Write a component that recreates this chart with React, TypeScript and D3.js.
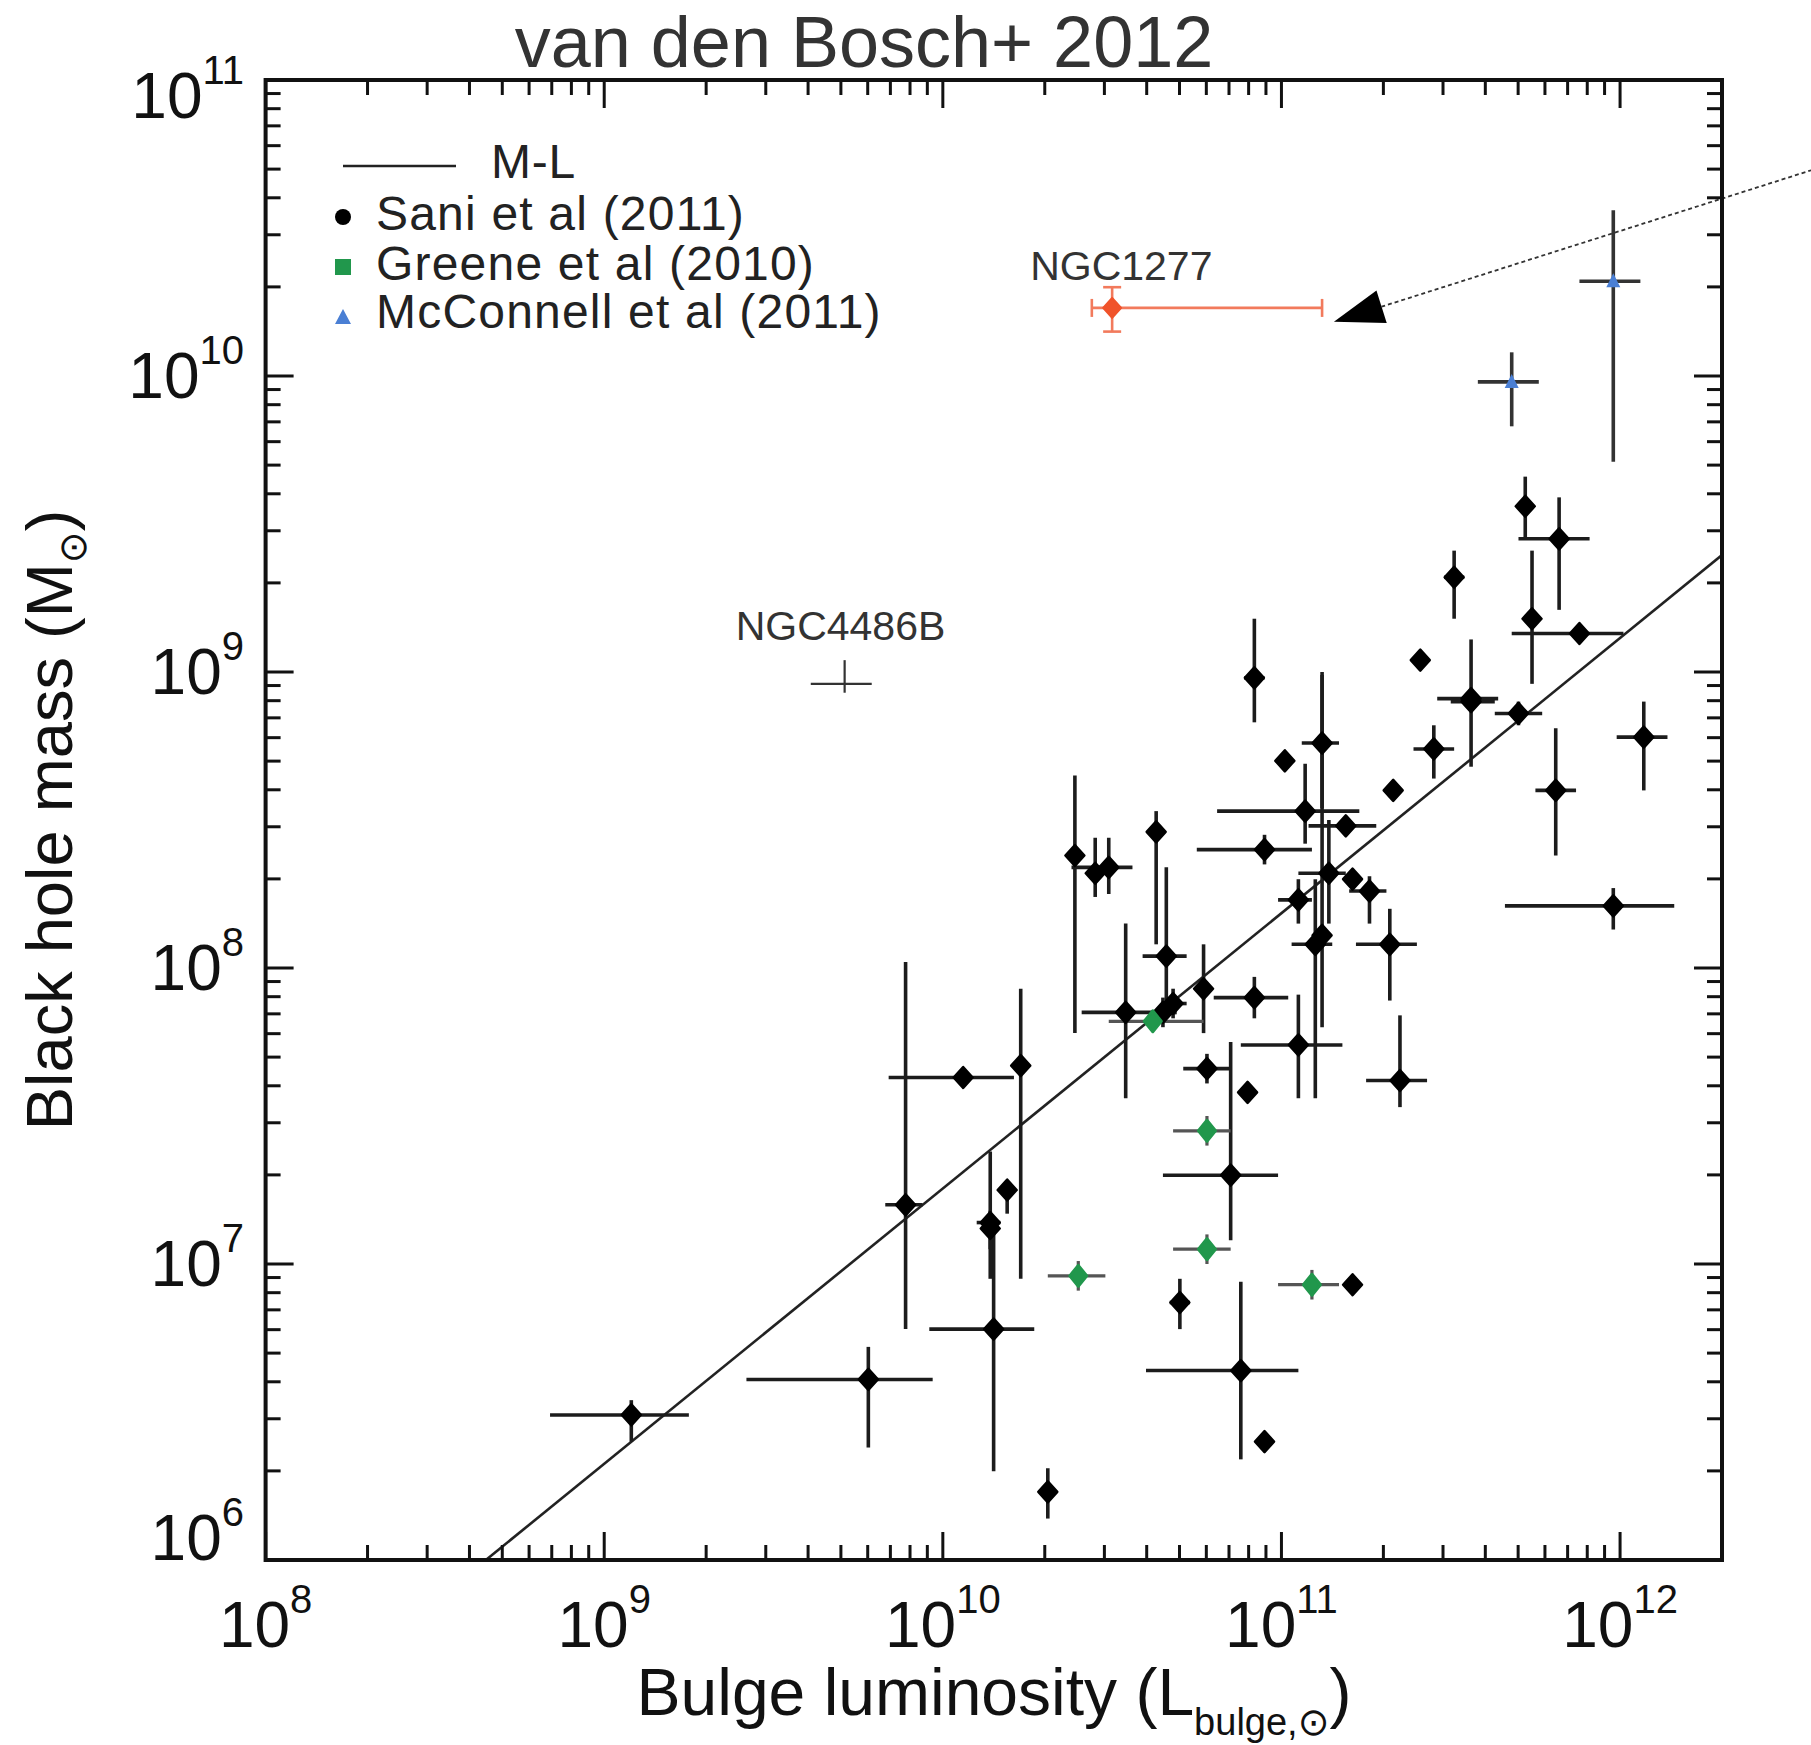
import React from "react";
import * as d3 from "d3";

// ---------- DATA (log10 values) ----------
// each row: [logL, logM, logL_lo, logL_hi, logM_lo, logM_hi]
const saniPoints: number[][] = [
  [9.08, 6.49, 8.84, 9.25, 6.40, 6.54],
  [9.78, 6.61, 9.42, 9.97, 6.38, 6.72],
  [9.89, 7.20, 9.83, 9.94, 6.78, 8.02],
  [10.06, 7.63, 9.84, 10.21, 7.60, 7.66],
  [10.23, 7.67, 10.21, 10.25, 6.95, 7.93],
  [10.15, 6.78, 9.96, 10.27, 6.30, 7.14],
  [10.14, 7.14, 10.10, 10.17, 6.95, 7.38],
  [10.14, 7.12, 10.12, 10.16, 7.05, 7.18],
  [10.19, 7.25, 10.19, 10.19, 7.17, 7.27],
  [11.35, 7.62, 11.25, 11.43, 7.53, 7.84],
  [10.78, 7.66, 10.71, 10.85, 7.61, 7.71],
  [10.90, 7.58, 10.90, 10.90, 7.58, 7.58],
  [10.85, 7.30, 10.65, 10.99, 7.08, 7.75],
  [10.70, 6.87, 10.67, 10.73, 6.78, 6.95],
  [11.21, 6.93, 11.21, 11.21, 6.93, 6.93],
  [10.88, 6.64, 10.60, 11.05, 6.34, 6.94],
  [10.95, 6.40, 10.95, 10.95, 6.40, 6.40],
  [10.31, 6.23, 10.31, 10.31, 6.14, 6.31],
  [11.05, 7.74, 10.88, 11.18, 7.56, 7.91],
  [10.92, 8.98, 10.89, 10.95, 8.83, 9.18],
  [11.51, 9.32, 11.48, 11.54, 9.18, 9.41],
  [11.41, 9.04, 11.41, 11.41, 9.04, 9.04],
  [11.56, 8.91, 11.46, 11.64, 8.68, 9.11],
  [11.56, 8.90, 11.50, 11.63, 8.88, 8.92],
  [11.45, 8.74, 11.39, 11.51, 8.64, 8.82],
  [11.33, 8.60, 11.33, 11.33, 8.60, 8.60],
  [11.70, 8.86, 11.63, 11.77, 8.82, 8.90],
  [11.12, 8.76, 11.06, 11.17, 8.54, 8.99],
  [11.01, 8.70, 11.01, 11.01, 8.70, 8.70],
  [11.07, 8.53, 10.81, 11.23, 8.42, 8.69],
  [11.19, 8.48, 11.08, 11.28, 8.46, 8.50],
  [10.95, 8.40, 10.75, 11.09, 8.35, 8.45],
  [11.14, 8.32, 11.05, 11.19, 8.15, 8.50],
  [11.21, 8.30, 11.21, 11.21, 8.30, 8.30],
  [11.26, 8.26, 11.20, 11.31, 8.15, 8.31],
  [11.05, 8.23, 10.99, 11.09, 8.15, 8.30],
  [11.32, 8.08, 11.22, 11.40, 7.89, 8.20],
  [11.10, 8.08, 11.03, 11.15, 7.56, 8.30],
  [11.12, 8.11, 11.12, 11.12, 7.80, 9.00],
  [10.63, 8.46, 10.63, 10.63, 8.08, 8.53],
  [10.66, 8.04, 10.59, 10.72, 7.84, 8.34],
  [10.39, 8.38, 10.39, 10.39, 7.78, 8.65],
  [10.45, 8.32, 10.45, 10.45, 8.24, 8.44],
  [10.49, 8.34, 10.38, 10.56, 8.25, 8.44],
  [10.54, 7.85, 10.41, 10.69, 7.56, 8.15],
  [10.92, 7.90, 10.80, 11.02, 7.83, 7.97],
  [10.77, 7.93, 10.77, 10.77, 7.78, 8.08],
  [10.65, 7.85, 10.62, 10.69, 7.80, 7.90],
  [10.68, 7.88, 10.65, 10.72, 7.83, 7.93],
  [11.72, 9.56, 11.72, 11.72, 9.45, 9.66],
  [11.82, 9.45, 11.70, 11.91, 9.21, 9.59],
  [11.74, 9.18, 11.74, 11.74, 8.96, 9.41],
  [11.88, 9.13, 11.68, 12.01, 9.10, 9.16],
  [12.07, 8.78, 11.99, 12.14, 8.60, 8.90],
  [11.81, 8.60, 11.75, 11.87, 8.38, 8.81],
  [11.98, 8.21, 11.66, 12.16, 8.13, 8.27],
];

const greenePoints: number[][] = [
  [10.62, 7.82, 10.49, 10.77, 7.82, 7.82],
  [10.78, 7.45, 10.68, 10.85, 7.40, 7.50],
  [10.78, 7.05, 10.68, 10.85, 7.00, 7.10],
  [10.40, 6.96, 10.31, 10.48, 6.91, 7.01],
  [11.09, 6.93, 10.99, 11.17, 6.88, 6.98],
];

const mcconnellPoints: number[][] = [
  [11.68, 9.98, 11.58, 11.76, 9.83, 10.08],
  [11.98, 10.32, 11.88, 12.06, 9.71, 10.56],
];

const ngc4486b: number[] = [9.71, 8.96, 9.61, 9.79, 8.93, 9.04];
const ngc1277: number[] = [10.50, 10.23, 10.44, 11.12, 10.15, 10.30];

// arrow annotation: [logL, logM] of tail and tip
const arrowTail: number[] = [12.567, 10.696];
const arrowTip: number[] = [11.155, 10.183];

// M-L relation: logM = mlIntercept + mlSlope * (logL - 11)
const mlSlope = 0.93;
const mlIntercept = 8.185;

const xDecades = [8, 9, 10, 11, 12];
const yDecades = [6, 7, 8, 9, 10, 11];

const legendLabels = ["M-L", "Sani et al (2011)", "Greene et al (2010)", "McConnell et al (2011)"];
const titleText = "van den Bosch+ 2012";

// ---------- LAYOUT ----------
const W = 1811;
const H = 1745;
const L = 265.6, R = 1722, T = 80, B = 1560;
const FONT = "'Liberation Sans', Arial, Helvetica, sans-serif";

const x = d3.scaleLog().domain([1e8, 2e12]).range([L, R]);
const y = d3.scaleLog().domain([1e6, 1e11]).range([B, T]);
const px = (lg: number) => x(Math.pow(10, lg));
const py = (lg: number) => y(Math.pow(10, lg));

function minorTicks(decades: number[], lo: number, hi: number) {
  const out: number[] = [];
  for (const d of decades) {
    for (let k = 2; k <= 9; k++) {
      const v = k * Math.pow(10, d);
      if (v > lo && v < hi) out.push(v);
    }
  }
  return out;
}

function ErrBars({ p, color, width, cap }: { p: number[]; color: string; width: number; cap?: number }) {
  const cx = px(p[0]), cy = py(p[1]);
  const x0 = px(p[2]), x1 = px(p[3]);
  const y0 = py(p[4]), y1 = py(p[5]);
  const els: any[] = [];
  if (Math.abs(x1 - x0) > 1) {
    els.push(<line key="h" x1={x0} x2={x1} y1={cy} y2={cy} stroke={color} strokeWidth={width} />);
    if (cap) {
      els.push(<line key="hc0" x1={x0} x2={x0} y1={cy - cap} y2={cy + cap} stroke={color} strokeWidth={width} />);
      els.push(<line key="hc1" x1={x1} x2={x1} y1={cy - cap} y2={cy + cap} stroke={color} strokeWidth={width} />);
    }
  }
  if (Math.abs(y1 - y0) > 1) {
    els.push(<line key="v" x1={cx} x2={cx} y1={y0} y2={y1} stroke={color} strokeWidth={width} />);
    if (cap) {
      els.push(<line key="vc0" x1={cx - cap} x2={cx + cap} y1={y0} y2={y0} stroke={color} strokeWidth={width} />);
      els.push(<line key="vc1" x1={cx - cap} x2={cx + cap} y1={y1} y2={y1} stroke={color} strokeWidth={width} />);
    }
  }
  return <g>{els}</g>;
}

function diamond(cx: number, cy: number, rx: number, ry: number) {
  return `M${cx},${cy - ry}L${cx + rx},${cy}L${cx},${cy + ry}L${cx - rx},${cy}Z`;
}

export default function App() {
  const xMinor = minorTicks(xDecades, 1e8, 2e12);
  const yMinor = minorTicks(yDecades, 1e6, 1e11);
  const MAJ = 28, MIN = 15;

  const mlLine = d3
    .line<number>()
    .x((lg) => px(lg))
    .y((lg) => py(mlIntercept + mlSlope * (lg - 11)));
  const mlX = [8, 12.301];

  // arrow geometry
  const tx = px(arrowTail[0]), ty = py(arrowTail[1]);
  const hx = px(arrowTip[0]), hy = py(arrowTip[1]);
  const dl = Math.hypot(hx - tx, hy - ty);
  const ux = (hx - tx) / dl, uy = (hy - ty) / dl;
  const headLen = 50, headHalf = 17;
  const bx = hx - ux * headLen, by = hy - uy * headLen;
  const arrowHead = `M${hx},${hy}L${bx - uy * headHalf},${by + ux * headHalf}L${bx + uy * headHalf},${by - ux * headHalf}Z`;

  const ySupLabel = (d: number) => {
    const yy = y(Math.pow(10, d));
    return Math.min(Math.max(yy + 22, T + 38), B);
  };

  return (
    <svg
      width={W}
      height={H}
      viewBox={`0 0 ${W} ${H}`}
      style={{ position: "absolute", left: 0, top: 0, background: "#fff" }}
      fontFamily={FONT}
    >
      <rect x={0} y={0} width={W} height={H} fill="#fff" />
      <defs>
        <clipPath id="plotclip">
          <rect x={L} y={T} width={R - L} height={B - T} />
        </clipPath>
      </defs>

      {/* title */}
      <text x={864} y={67} fontSize={72} textAnchor="middle" fill="#333">
        {titleText}
      </text>

      {/* M-L relation */}
      <g clipPath="url(#plotclip)">
        <path d={mlLine(mlX) || ""} stroke="#222" strokeWidth={2.6} fill="none" />
      </g>

      {/* NGC4486B */}
      <ErrBars p={ngc4486b} color="#333" width={2.2} />
      <text x={px(ngc4486b[0]) - 109} y={640} fontSize={41} fill="#333">NGC4486B</text>

      {/* Sani error bars */}
      {saniPoints.map((p, i) => (
        <ErrBars key={"se" + i} p={p} color="#1c1c1c" width={3.6} />
      ))}
      {/* Greene error bars */}
      {greenePoints.map((p, i) => (
        <ErrBars key={"ge" + i} p={p} color="#555" width={3.2} />
      ))}
      {/* McConnell error bars */}
      {mcconnellPoints.map((p, i) => (
        <ErrBars key={"me" + i} p={p} color="#333" width={3.6} />
      ))}

      {/* Sani markers */}
      {saniPoints.map((p, i) => (
        <path
          key={"sm" + i}
          d={diamond(px(p[0]), py(p[1]), 9.5, 10.5)}
          fill="#000"
          stroke="#000"
          strokeWidth={2.5}
          strokeLinejoin="round"
        />
      ))}
      {/* Greene markers */}
      {greenePoints.map((p, i) => (
        <path
          key={"gm" + i}
          d={diamond(px(p[0]), py(p[1]), 8.5, 10.5)}
          fill="#21974c"
          stroke="#21974c"
          strokeWidth={3}
          strokeLinejoin="round"
        />
      ))}
      {/* McConnell markers */}
      {mcconnellPoints.map((p, i) => {
        const cx = px(p[0]), cy = py(p[1]);
        return (
          <path key={"mm" + i} d={`M${cx},${cy - 8}L${cx + 7},${cy + 6}L${cx - 7},${cy + 6}Z`} fill="#4a7fd4" />
        );
      })}

      {/* NGC1277 */}
      <ErrBars p={ngc1277} color="#f27a5c" width={2.6} cap={9} />
      <path
        d={diamond(px(ngc1277[0]), py(ngc1277[1]), 9, 10)}
        fill="#f0532b"
        stroke="#f0532b"
        strokeWidth={2}
        strokeLinejoin="round"
      />
      <text x={px(ngc1277[0]) - 82} y={280} fontSize={41} fill="#333">NGC1277</text>

      {/* arrow */}
      <line x1={tx} y1={ty} x2={bx} y2={by} stroke="#333" strokeWidth={1.8} strokeDasharray="4,3" />
      <path d={arrowHead} fill="#000" />

      {/* axes ticks */}
      <g stroke="#111" strokeWidth={3}>
        {xDecades.map((d) => {
          const xx = x(Math.pow(10, d));
          return (
            <g key={"xM" + d}>
              <line x1={xx} x2={xx} y1={B} y2={B - MAJ} />
              <line x1={xx} x2={xx} y1={T} y2={T + MAJ} />
            </g>
          );
        })}
        {xMinor.map((v, i) => {
          const xx = x(v);
          return (
            <g key={"xm" + i}>
              <line x1={xx} x2={xx} y1={B} y2={B - MIN} />
              <line x1={xx} x2={xx} y1={T} y2={T + MIN} />
            </g>
          );
        })}
        {yDecades.map((d) => {
          const yy = y(Math.pow(10, d));
          return (
            <g key={"yM" + d}>
              <line x1={L} x2={L + MAJ} y1={yy} y2={yy} />
              <line x1={R} x2={R - MAJ} y1={yy} y2={yy} />
            </g>
          );
        })}
        {yMinor.map((v, i) => {
          const yy = y(v);
          return (
            <g key={"ym" + i}>
              <line x1={L} x2={L + MIN} y1={yy} y2={yy} />
              <line x1={R} x2={R - MIN} y1={yy} y2={yy} />
            </g>
          );
        })}
      </g>
      {/* frame */}
      <rect x={L} y={T} width={R - L} height={B - T} fill="none" stroke="#111" strokeWidth={4} />

      {/* x tick labels */}
      {xDecades.map((d) => (
        <text key={"xl" + d} x={x(Math.pow(10, d))} y={1647} fontSize={64} textAnchor="middle" fill="#111">
          10
          <tspan fontSize={40} dy={-34}>{d}</tspan>
        </text>
      ))}
      {/* y tick labels */}
      {yDecades.map((d) => (
        <text key={"yl" + d} x={244} y={ySupLabel(d)} fontSize={64} textAnchor="end" fill="#111">
          10
          <tspan fontSize={40} dy={-34}>{d}</tspan>
        </text>
      ))}

      {/* axis labels */}
      <text x={994} y={1715} fontSize={66} textAnchor="middle" fill="#111">
        Bulge luminosity (L
        <tspan fontSize={38} dy={20}>bulge,</tspan>
        <tspan fontSize={38} fontFamily="'DejaVu Sans', sans-serif">⊙</tspan>
        <tspan dy={-20}>)</tspan>
      </text>
      <text transform={`translate(72, ${(T + B) / 2}) rotate(-90)`} fontSize={65} textAnchor="middle" fill="#111">
        Black hole mass (M
        <tspan fontSize={38} dy={14} fontFamily="'DejaVu Sans', sans-serif">⊙</tspan>
        <tspan dy={-14}>)</tspan>
      </text>

      {/* legend */}
      <line x1={343} x2={456} y1={166} y2={166} stroke="#222" strokeWidth={2.6} />
      <text x={491} y={178} fontSize={48} fill="#222" letterSpacing={0.8}>{legendLabels[0]}</text>
      <circle cx={343} cy={217} r={8} fill="#000" />
      <text x={376} y={230} fontSize={48} fill="#222" letterSpacing={1.2}>{legendLabels[1]}</text>
      <rect x={335} y={259} width={16} height={16} fill="#21974c" />
      <text x={376} y={280} fontSize={48} fill="#222" letterSpacing={1.2}>{legendLabels[2]}</text>
      <path d="M343,309L351,324L335,324Z" fill="#4a7fd4" />
      <text x={376} y={328} fontSize={48} fill="#222" letterSpacing={1.2}>{legendLabels[3]}</text>
    </svg>
  );
}
